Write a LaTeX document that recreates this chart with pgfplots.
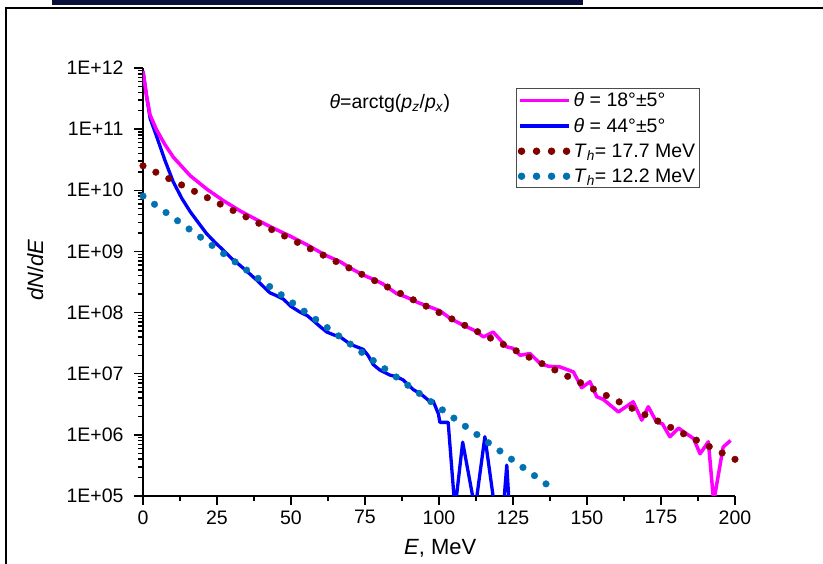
\documentclass[border=0pt]{standalone}
\usepackage{fontspec}
\setmainfont{Liberation Sans}
\usepackage{pgfplots}
\pgfplotsset{compat=1.18}
\definecolor{magentaline}{RGB}{255,0,255}
\definecolor{blueline}{RGB}{0,0,255}
\definecolor{fitbrown}{RGB}{128,0,0}
\definecolor{fitblue}{RGB}{0,114,178}
\definecolor{barnavy}{RGB}{10,16,58}

\begin{document}
\begin{tikzpicture}
\path[use as bounding box] (0pt,0pt) rectangle (823pt,564pt);
% screenshot frame
\fill[barnavy] (52pt,559pt) rectangle (583pt,564pt);
\draw[line width=2pt] (6pt,0pt) -- (6pt,556pt) -- (823pt,556pt);
\begin{axis}[
  at={(143pt,68pt)}, anchor=south west,
  scale only axis, width=592pt, height=428pt,
  xmin=0, xmax=200, ymin=1e5, ymax=1e12,
  ymode=log,
  axis lines*=left,
  axis line style={line width=1.8pt},
  tick style={line width=1.4pt, black},
  tick align=outside,
  major tick length=9pt, minor tick length=5pt,
  xtick={0,25,...,200}, minor x tick num=1,
  ytick={1e5,1e6,1e7,1e8,1e9,1e10,1e11,1e12},
  yticklabels={1E+05,1E+06,1E+07,1E+08,1E+09,1E+10,1E+11,1E+12},
  /pgf/number format/assume math mode=true,
  tick label style={font=\fontsize{19.5}{22}\selectfont},
  yticklabel style={xshift=-7pt},
  xticklabel style={yshift=-2pt},
  xlabel={\textit{E}, MeV},
  ylabel={\textit{dN}/\textit{dE}},
  label style={font=\fontsize{22}{26}\selectfont},
  xlabel style={at={(axis description cs:0.502,-0.1215)}, anchor=center},
  ylabel style={at={(axis description cs:-0.182,0.528)}, anchor=center},
  reverse legend,
  legend cell align=left,
  legend style={at={(0.941,0.953)}, anchor=north east, draw=black!70,
    line width=0.8pt, font=\fontsize{19.5}{23}\selectfont,
    inner xsep=1pt, inner ysep=3pt, row sep=8pt,
    nodes={inner xsep=3.5pt, inner ysep=1pt}},
  clip=true,
]
% exponential fit, T_h = 12.2 MeV
\addplot[only marks, mark=*, mark size=3.3pt, fitblue,
  legend image code/.code={\foreach \i in {0,...,3}{\fill (\i*15pt-2pt,0pt) circle (3.3pt);}}]
coordinates {
(0,8.035e9)(3.89,5.895e9)(7.78,4.325e9)(11.67,3.174e9)(15.56,2.328e9)
(19.45,1.708e9)(23.34,1.253e9)(27.23,9.196e8)(31.12,6.747e8)(35.01,4.950e8)
(38.90,3.632e8)(42.79,2.665e8)(46.68,1.955e8)(50.57,1.434e8)(54.46,1.053e8)
(58.35,7.725e7)(62.24,5.667e7)(66.13,4.158e7)(70.02,3.051e7)(73.91,2.238e7)
(77.80,1.642e7)(81.69,1.205e7)(85.58,8.841e6)(89.47,6.486e6)(93.36,4.759e6)
(97.25,3.492e6)(101.14,2.562e6)(105.03,1.879e6)(108.92,1.379e6)(112.81,1.012e6)
(116.70,7.424e5)(120.59,5.447e5)(124.48,3.996e5)(128.37,2.932e5)(132.26,2.151e5)
(136.15,1.578e5)
};
\addlegendentry{\textit{T}\textsubscript{\textit{h}}= 12.2 MeV}
% exponential fit, T_h = 17.7 MeV
\addplot[only marks, mark=*, mark size=3.3pt, fitbrown,
  legend image code/.code={\foreach \i in {0,...,3}{\fill (\i*15pt-2pt,0pt) circle (3.3pt);}}]
coordinates {
(0,2.512e10)(4.348,1.975e10)(8.696,1.554e10)(13.043,1.222e10)(17.391,9.608e9)
(21.739,7.556e9)(26.087,5.942e9)(30.435,4.673e9)(34.783,3.675e9)(39.130,2.890e9)
(43.478,2.273e9)(47.826,1.787e9)(52.174,1.406e9)(56.522,1.105e9)(60.870,8.694e8)
(65.217,6.837e8)(69.565,5.377e8)(73.913,4.228e8)(78.261,3.325e8)(82.609,2.615e8)
(86.957,2.056e8)(91.304,1.617e8)(95.652,1.272e8)(100.000,1.000e8)(104.348,7.865e7)
(108.696,6.185e7)(113.043,4.864e7)(117.391,3.825e7)(121.739,3.008e7)(126.087,2.366e7)
(130.435,1.860e7)(134.783,1.463e7)(139.130,1.151e7)(143.478,9.049e6)(147.826,7.116e6)
(152.174,5.596e6)(156.522,4.401e6)(160.870,3.461e6)(165.217,2.722e6)(169.565,2.140e6)
(173.913,1.683e6)(178.261,1.324e6)(182.609,1.041e6)(186.957,8.187e5)(191.304,6.438e5)
(195.652,5.063e5)(200.000,3.981e5)
};
\addlegendentry{\textit{T}\textsubscript{\textit{h}}= 17.7 MeV}
% theta = 44 deg
\addplot[blueline, line width=3.3pt, line join=round,
  legend image code/.code={\draw[line width=3.3pt] (-4pt,0pt) -- (45pt,0pt);}]
coordinates {
(0,8.9e11)(1.2,3.5e11)(2.4,1.5e11)(4.6,7.6e10)(7.4,3.1e10)(10.2,1.38e10)
(13.1,7.4e9)(15.9,4.5e9)(18.7,2.95e9)(21.5,1.95e9)(24.3,1.41e9)(27.1,1.05e9)
(30,7.6e8)(32.8,5.9e8)(35.6,4.5e8)(38.4,3.4e8)(42.9,2.1e8)(45,1.9e8)
(47.4,1.66e8)(50,1.26e8)(53,1.02e8)(55.5,8.9e7)(57.5,7.4e7)(60,5.8e7)
(62.1,4.8e7)(64.5,4.3e7)(66.6,4.0e7)(69,3.3e7)(71,2.9e7)(74.4,2.5e7)
(76,2.0e7)(77.8,1.41e7)(80,1.15e7)(83.4,9.5e6)(85.7,8.9e6)(87.9,7.9e6)
(91.3,5.5e6)(94,4.6e6)(97,3.5e6)(98,3.6e6)(99.8,2.2e6)(100.3,1.6e6)
(103.1,1.6e6)(105.4,6e4)(108,7.6e5)(112.2,6e4)(115.5,9.3e5)(118.9,6e4)
(121.7,6e4)(122.9,3.2e5)(123.8,6e4)
};
\addlegendentry{\textit{θ} = 44°±5°}
% theta = 18 deg
\addplot[magentaline, line width=3.5pt, line join=round,
  legend image code/.code={\draw[line width=3.3pt] (-4pt,0pt) -- (45pt,0pt);}]
coordinates {
(0,8.9e11)(1.2,3.5e11)(2.4,1.7e11)(4.6,9.7e10)(7.4,5.6e10)(10.2,3.5e10)
(15.9,1.74e10)(21.5,1.05e10)(27.1,6.8e9)(32.8,4.6e9)(38.4,3.3e9)(44,2.4e9)
(49.7,1.78e9)(55.3,1.29e9)(62,8.5e8)(66.6,6.8e8)(70.5,5.2e8)(74.4,4.1e8)
(77.8,3.5e8)(81,2.95e8)(85.7,2.04e8)(89.1,1.78e8)(93,1.45e8)(97,1.23e8)
(100.3,1.07e8)(104,7.9e7)(108.2,6.2e7)(112,5.1e7)(115,4.0e7)(118.3,4.8e7)
(122.9,2.75e7)(125,2.6e7)(127.4,2.0e7)(130.7,2.14e7)(134.1,1.48e7)(137,1.32e7)
(140.9,1.29e7)(145.4,1.07e7)(148.2,5.9e6)(151,7.4e6)(153.3,4.2e6)(155.5,3.8e6)
(160.6,2.37e6)(165.6,3.47e6)(168.5,1.74e6)(170.7,2.88e6)(173.5,1.62e6)(175.5,1.51e6)
(178,9.3e5)(180.9,1.29e6)(183.5,1.05e6)(186,8.7e5)(188.2,4.9e5)(191,7.7e5)
(192.8,8e4)(196,6.3e5)(198.5,8.1e5)
};
\addlegendentry{\textit{θ} = 18°±5°}
\node[font=\fontsize{19.5}{23}\selectfont] at (rel axis cs:0.417,0.918)
  {\textit{θ}=arctg(\textit{p}\textsubscript{\textit{z}}/\textit{p}\textsubscript{\textit{x}})};
\end{axis}
\end{tikzpicture}
\end{document}
